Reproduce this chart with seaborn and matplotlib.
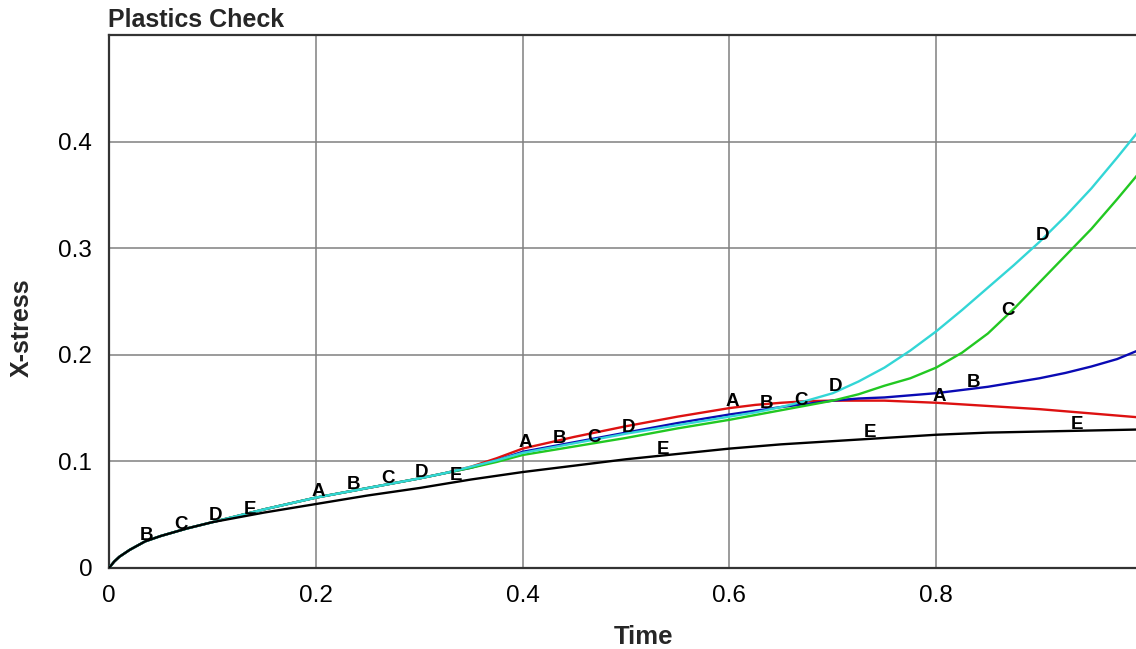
import numpy as np
import pandas as pd
import matplotlib
matplotlib.use("Agg")
import matplotlib.pyplot as plt
from matplotlib.ticker import MultipleLocator
import seaborn as sns

# Sample times shared by every history curve
time = [0.0, 0.005, 0.01, 0.02, 0.035, 0.05, 0.075, 0.1, 0.15, 0.2, 0.25, 0.3,
        0.325, 0.35, 0.375, 0.4, 0.45, 0.5, 0.55, 0.6, 0.625, 0.65, 0.675, 0.7,
        0.725, 0.75, 0.775, 0.8, 0.825, 0.85, 0.875, 0.9, 0.925, 0.95, 0.975, 1.0]

# X-stress histories for the five elements
stress_a = [0.0, 0.006, 0.0105, 0.017, 0.025, 0.030, 0.037, 0.043, 0.055, 0.066,
            0.075, 0.084, 0.089, 0.095, 0.103, 0.112, 0.123, 0.133, 0.142, 0.150,
            0.153, 0.155, 0.1565, 0.157, 0.157, 0.157, 0.156, 0.155, 0.1535, 0.152,
            0.1505, 0.149, 0.147, 0.145, 0.143, 0.141]
stress_b = [0.0, 0.006, 0.0105, 0.017, 0.025, 0.030, 0.037, 0.043, 0.055, 0.066,
            0.075, 0.084, 0.089, 0.094, 0.101, 0.109, 0.118, 0.127, 0.136, 0.144,
            0.1475, 0.151, 0.154, 0.157, 0.159, 0.160, 0.162, 0.164, 0.167, 0.170,
            0.174, 0.178, 0.183, 0.189, 0.196, 0.206]
stress_c = [0.0, 0.006, 0.0105, 0.017, 0.025, 0.030, 0.037, 0.043, 0.055, 0.066,
            0.075, 0.084, 0.089, 0.094, 0.0995, 0.106, 0.114, 0.122, 0.131, 0.139,
            0.1435, 0.148, 0.1525, 0.157, 0.163, 0.171, 0.178, 0.188, 0.202, 0.220,
            0.243, 0.268, 0.293, 0.318, 0.346, 0.375]
stress_d = [0.0, 0.006, 0.0105, 0.017, 0.025, 0.030, 0.037, 0.043, 0.055, 0.066,
            0.075, 0.084, 0.089, 0.095, 0.101, 0.108, 0.117, 0.126, 0.134, 0.142,
            0.146, 0.151, 0.157, 0.164, 0.175, 0.188, 0.204, 0.222, 0.242, 0.263,
            0.284, 0.306, 0.330, 0.356, 0.385, 0.415]
stress_e = [0.0, 0.006, 0.0105, 0.017, 0.025, 0.030, 0.037, 0.043, 0.052, 0.060,
            0.068, 0.075, 0.079, 0.083, 0.0865, 0.090, 0.096, 0.102, 0.107, 0.112,
            0.114, 0.116, 0.1175, 0.119, 0.1205, 0.122, 0.1235, 0.125, 0.126, 0.127,
            0.1275, 0.128, 0.1285, 0.129, 0.1295, 0.130]

curve_ids = ["A", "B", "C", "D", "E"]
curve_colors = ["#dd1111", "#0a0ab4", "#22c822", "#33d6d6", "#000000"]

# Tick values and labels
x_ticks = [0.0, 0.2, 0.4, 0.6, 0.8, 1.0]
x_tick_labels = ["0", "0.2", "0.4", "0.6", "0.8", "1"]
y_ticks = [0.0, 0.1, 0.2, 0.3, 0.4]
y_tick_labels = ["0", "0.1", "0.2", "0.3", "0.4"]

series = dict(zip(curve_ids, [stress_a, stress_b, stress_c, stress_d, stress_e]))
df = pd.concat(
    [pd.DataFrame({"Time": time, "X-stress": vals, "curve": cid})
     for cid, vals in series.items()],
    ignore_index=True,
)

sns.set_style("white")
plt.rcParams["font.family"] = ["Liberation Sans", "DejaVu Sans"]

W, H = 1136, 649
fig = plt.figure(figsize=(W / 100, H / 100), dpi=100)
ax_left, ax_right, ax_top, ax_bottom = 109, 1143, 35, 568
ax = fig.add_axes([ax_left / W, 1 - ax_bottom / H,
                   (ax_right - ax_left) / W, (ax_bottom - ax_top) / H])

sns.lineplot(data=df, x="Time", y="X-stress", hue="curve",
             palette=dict(zip(curve_ids, curve_colors)), hue_order=curve_ids,
             estimator=None, sort=False, legend=False, linewidth=1.7, ax=ax,
             zorder=3)

ax.set_xlim(0, 1.0)
ax.set_ylim(0, 0.5)

# Identifier letters placed along each curve, staggered by curve
t_arr = np.asarray(time)
for j, (cid, vals) in enumerate(series.items()):
    for k in range(6):
        t = 0.2 * k + j / 30.0
        if t <= 0.0 or t >= 1.0:
            continue
        y = np.interp(t, t_arr, np.asarray(vals))
        ax.annotate(cid, (t, y), xytext=(2, -1.5), textcoords="offset points",
                    ha="center", va="bottom", fontsize=13.5, fontweight="bold",
                    color="black", zorder=5)

# Axes styling
ax.set_xticks(x_ticks)
ax.set_xticklabels(x_tick_labels)
ax.set_yticks(y_ticks)
ax.set_yticklabels(y_tick_labels)
ax.xaxis.set_minor_locator(MultipleLocator(0.1))
ax.yaxis.set_minor_locator(MultipleLocator(0.05))
ax.tick_params(axis="both", which="major", direction="out", length=7,
               width=1.2, color="#333333", labelsize=17.5, pad=5,
               labelcolor="black")
ax.tick_params(axis="both", which="minor", direction="in", length=6.5,
               width=1.2, color="#333333")
ax.grid(True, which="major", color="#808080", linewidth=1.1, zorder=0)
ax.set_axisbelow(True)
for side in ["left", "bottom", "top", "right"]:
    ax.spines[side].set_color("#333333")
    ax.spines[side].set_linewidth(1.6)

ax.set_xlabel("")
ax.set_ylabel("")

fig.text(108 / W, 1 - 27 / H, "Plastics Check", ha="left", va="baseline",
         fontsize=18, fontweight="bold")
fig.text(644 / W, 1 - 637 / H, "Time", ha="center", va="center",
         fontsize=18.5, fontweight="bold")
fig.text(22 / W, 1 - 328 / H, "X-stress", ha="center", va="center",
         rotation=90, fontsize=18, fontweight="bold")

fig.savefig("out.png", dpi=100, facecolor="white")
